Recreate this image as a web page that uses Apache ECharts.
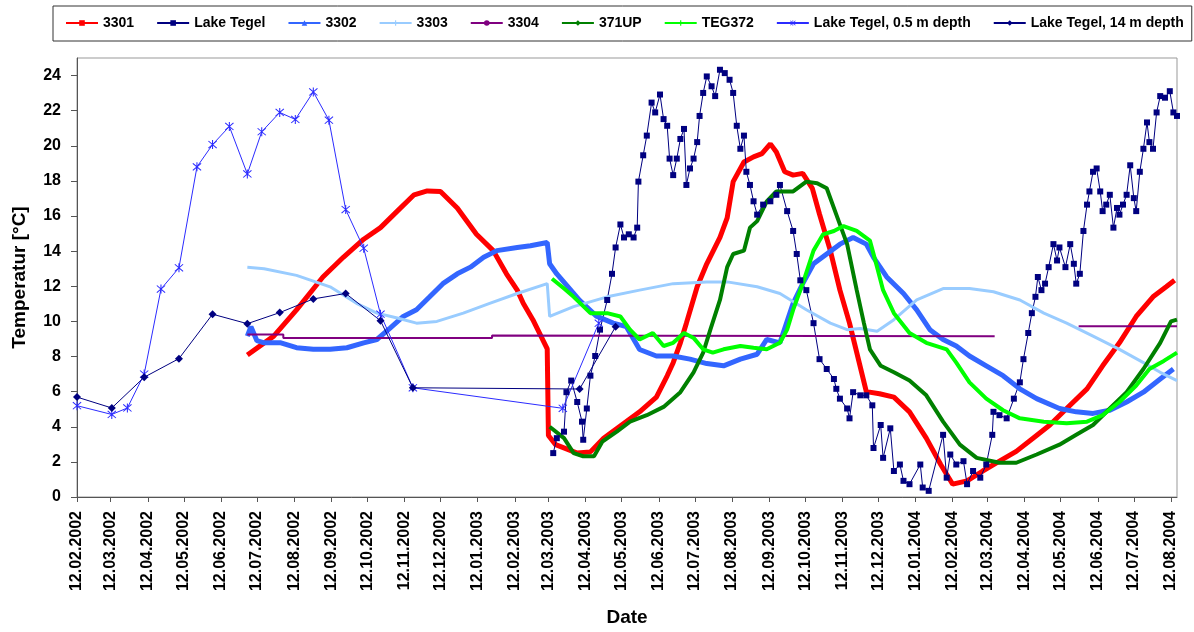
<!DOCTYPE html>
<html>
<head>
<meta charset="utf-8">
<script src="https://cdn.jsdelivr.net/npm/echarts@6/dist/echarts.min.js"></script>
<style>
html,body{margin:0;padding:0;background:#fff;}
#chart{width:1194px;height:632px;}
</style>
</head>
<body>
<div id="chart"></div>
<script>
// ---------- data ----------
// x values: days since 12.02.2002 ; y values: temperature in °C
const startDate = [2002, 2, 12];
const xMaxDay = 917; // 17.08.2004
const tickLabels = ['12.02.2002','12.03.2002','12.04.2002','12.05.2002','12.06.2002','12.07.2002','12.08.2002','12.09.2002','12.10.2002','12.11.2002','12.12.2002','12.01.2003','12.02.2003','12.03.2003','12.04.2003','12.05.2003','12.06.2003','12.07.2003','12.08.2003','12.09.2003','12.10.2003','12.11.2003','12.12.2003','12.01.2004','12.02.2004','12.03.2004','12.04.2004','12.05.2004','12.06.2004','12.07.2004','12.08.2004'];
const yTicks = [0,2,4,6,8,10,12,14,16,18,20,22,24];
const seriesNames = ['3301','Lake Tegel','3302','3303','3304','371UP','TEG372','Lake Tegel, 0.5 m depth','Lake Tegel, 14 m depth'];

const s3301 = [[142,8.09],[164,9.16],[183,10.66],[205,12.53],[222,13.65],[239,14.68],[253,15.34],[267,16.28],[281,17.21],[292,17.43],[303,17.4],[317,16.46],[333,14.96],[347,14.03],[358,12.71],[367,11.78],[372,11.03],[380,10.1],[392,8.43],[393,3.5],[399,2.98],[417,2.5],[428,2.57],[439,3.35],[456,4.2],[469,4.85],[483,5.69],[492,6.9],[497,7.65],[503,8.78],[508,9.9],[517,11.97],[525,13.28],[536,14.78],[542,15.9],[547,17.96],[556,19.08],[564,19.37],[571,19.55],[578,20.11],[583,19.65],[590,18.52],[597,18.33],[605,18.43],[613,17.58],[619,16.1],[628,14.03],[636,11.78],[644,9.9],[653,7.4],[658,6.0],[669,5.88],[681,5.69],[694,4.85],[708,3.35],[720,1.85],[730,0.73],[742,0.92],[755,1.48],[769,2.04],[783,2.6],[797,3.35],[811,4.1],[825,5.04],[842,6.16],[855,7.47],[869,8.78],[883,10.28],[897,11.4],[908,11.97],[915,12.34]];

const sLakeTegel = [[397,2.5],[400,3.35],[406,3.72],[408,5.97],[412,6.63],[417,5.41],[421,4.29],[422,3.26],[425,5.04],[428,6.91],[432,8.03],[436,9.53],[442,11.22],[446,12.71],[449,14.21],[453,15.52],[456,14.78],[460,14.96],[464,14.78],[467,15.34],[468,17.96],[472,19.46],[475,20.58],[479,22.46],[482,21.9],[486,22.92],[489,21.52],[492,21.14],[494,19.27],[497,18.33],[500,19.27],[503,20.39],[506,20.96],[508,17.77],[511,18.71],[514,19.27],[517,20.21],[519,21.7],[522,23.01],[525,23.95],[529,23.39],[532,22.83],[536,24.33],[540,24.14],[544,23.76],[547,23.01],[550,21.14],[553,19.83],[556,20.58],[558,18.52],[561,17.77],[564,16.84],[567,16.08],[572,16.65],[578,16.84],[583,17.21],[586,17.77],[592,16.28],[597,15.15],[600,13.84],[603,12.34],[608,11.78],[614,9.9],[619,7.85],[625,7.29],[631,6.72],[633,6.16],[636,5.6],[642,5.04],[644,4.48],[647,5.97],[653,5.79],[658,5.79],[663,5.22],[664,2.79],[670,4.1],[672,2.23],[678,3.91],[681,1.48],[686,1.85],[689,0.92],[694,0.73],[703,1.85],[705,0.54],[710,0.35],[722,3.54],[725,1.1],[728,2.42],[733,1.85],[739,2.04],[742,0.73],[747,1.48],[753,1.1],[758,1.85],[763,3.54],[764,4.85],[769,4.66],[775,4.48],[781,5.6],[786,6.53],[789,7.85],[793,9.34],[796,10.47],[799,11.4],[801,12.53],[804,11.78],[807,12.15],[810,13.09],[814,14.4],[817,13.47],[819,14.21],[824,13.09],[828,14.4],[831,13.28],[833,12.15],[836,12.71],[839,15.15],[842,16.65],[844,17.4],[847,18.52],[850,18.71],[853,17.4],[855,16.28],[858,16.65],[861,17.21],[864,15.34],[867,16.46],[869,16.08],[872,16.65],[875,17.21],[878,18.89],[881,17.02],[883,16.28],[886,18.52],[889,19.83],[892,21.33],[894,20.21],[897,19.83],[900,21.9],[903,22.83],[907,22.74],[911,23.11],[914,21.9],[917,21.7]];

const s3302 = [[142,9.16],[145,9.7],[150,8.9],[156,8.78],[170,8.78],[183,8.5],[197,8.41],[211,8.41],[225,8.5],[239,8.78],[250,8.97],[261,9.62],[272,10.28],[283,10.66],[294,11.4],[305,12.15],[317,12.71],[328,13.09],[339,13.65],[350,14.03],[367,14.21],[378,14.31],[392,14.49],[394,13.28],[400,12.7],[419,11.2],[433,10.3],[447,9.9],[458,9.7],[469,8.4],[483,8.03],[497,8.03],[511,7.85],[525,7.6],[539,7.47],[553,7.85],[567,8.13],[575,8.97],[586,8.78],[597,11.03],[605,12.15],[614,13.28],[625,13.84],[636,14.4],[647,14.78],[658,14.4],[664,13.65],[675,12.53],[689,11.59],[700,10.66],[711,9.53],[722,8.97],[733,8.6],[744,8.03],[758,7.47],[772,6.91],[786,6.16],[800,5.6],[819,5.04],[833,4.85],[847,4.76],[861,4.94],[875,5.41],[889,5.97],[903,6.72],[914,7.29]];

const s3303 = [[142,13.09],[156,13.0],[183,12.62],[211,11.97],[233,11.03],[250,10.47],[267,10.19],[283,9.9],[300,10.0],[322,10.47],[344,11.03],[367,11.59],[392,12.15],[394,10.28],[414,10.84],[442,11.4],[469,11.78],[497,12.15],[525,12.25],[542,12.25],[567,11.97],[586,11.59],[608,10.66],[628,9.9],[642,9.53],[653,9.6],[667,9.44],[681,10.1],[700,11.22],[722,11.87],[744,11.87],[764,11.69],[786,11.22],[806,10.47],[825,9.9],[847,9.16],[869,8.41],[889,7.65],[903,7.1],[917,6.63]];

const s3304 = [[142,9.25],[172,9.25],[172,9.06],[346,9.06],[346,9.2],[765,9.15],[765,null],[835,9.72],[917,9.72]];

const s371UP = [[394,4.0],[406,3.35],[414,2.5],[422,2.32],[431,2.32],[438,3.16],[450,3.72],[461,4.29],[475,4.66],[489,5.13],[503,5.97],[514,7.1],[522,8.22],[528,9.53],[536,11.22],[542,13.09],[547,13.84],[556,14.03],[561,15.34],[567,15.71],[575,16.84],[583,17.4],[597,17.4],[608,17.96],[617,17.87],[625,17.58],[633,16.08],[642,14.4],[650,11.78],[656,9.9],[661,8.41],[670,7.47],[681,7.1],[694,6.63],[708,5.79],[722,4.29],[736,2.98],[750,2.23],[769,1.95],[783,1.95],[800,2.42],[819,2.98],[833,3.54],[847,4.1],[861,5.04],[875,5.97],[889,7.29],[903,8.78],[912,10.0],[917,10.1]];

const sTEG372 = [[396,12.43],[406,11.87],[414,11.4],[428,10.47],[442,10.47],[453,10.28],[461,9.53],[469,8.97],[480,9.34],[489,8.6],[497,8.78],[506,9.34],[514,9.06],[522,8.41],[530,8.22],[539,8.41],[553,8.6],[564,8.5],[575,8.41],[586,8.78],[592,9.53],[597,10.66],[605,12.15],[614,14.03],[622,14.96],[631,15.15],[639,15.43],[650,15.15],[661,14.6],[667,13.09],[672,11.78],[681,10.47],[694,9.34],[708,8.78],[725,8.41],[733,7.65],[744,6.53],[758,5.6],[772,4.94],[786,4.48],[806,4.29],[825,4.2],[842,4.29],[855,4.66],[869,5.41],[883,6.35],[894,7.29],[906,7.75],[917,8.22]];

const sTegel05m = [[0,5.2],[29,4.7],[42,5.07],[56,7.0],[70,11.84],[85,13.05],[100,18.8],[113,20.07],[127,21.1],[142,18.4],[154,20.8],[169,21.9],[182,21.5],[197,23.07],[210,21.46],[224,16.37],[239,14.17],[253,10.41],[280,6.22],[405,5.05],[435,9.9]];

const sTegel14m = [[0,5.69],[29,5.07],[56,6.82],[85,7.88],[113,10.41],[142,9.87],[169,10.5],[197,11.28],[224,11.59],[253,10.04],[280,6.22],[419,6.15],[449,9.7]];

// ---------- helpers ----------
const DAY = 86400000;
const t0 = Date.UTC(startDate[0], startDate[1] - 1, startDate[2]);
const tickDays = tickLabels.map(s => {
  const p = s.split('.');
  return Math.round((Date.UTC(+p[2], +p[1] - 1, +p[0]) - t0) / DAY);
});
const labelByDay = {};
tickDays.forEach((d, i) => { labelByDay[d] = tickLabels[i]; });

const FONT = 'Liberation Sans, Arial, sans-serif';
const plusPath = 'path://M4,0L6,0L6,4L10,4L10,6L6,6L6,10L4,10L4,6L0,6L0,4L4,4Z';
const starPath = 'path://M4.5,0L5.5,0L5.5,10L4.5,10Z M0.7,1.4L1.4,0.7L9.3,8.6L8.6,9.3Z M8.6,0.7L9.3,1.4L1.4,9.3L0.7,8.6Z';

function mk(name, data, color, lw, symbol, symSize, showSym) {
  return {
    name: name, type: 'line', data: data,
    symbol: symbol, symbolSize: symSize, showSymbol: showSym,
    connectNulls: false, animation: false,
    lineStyle: { color: color, width: lw },
    itemStyle: { color: color, borderWidth: 0 },
    emphasis: { disabled: true }
  };
}

const chart = echarts.init(document.getElementById('chart'), null, { renderer: 'canvas' });
chart.setOption({
  animation: false,
  backgroundColor: '#fff',
  textStyle: { fontFamily: FONT },
  legend: {
    left: 53, top: 6, width: 1125,
    padding: [10, 8, 11, 12],
    itemWidth: 32, itemHeight: 7, itemGap: 22,
    borderColor: '#333', borderWidth: 1,
    textStyle: { fontFamily: FONT, fontWeight: 'bold', fontSize: 14, color: '#000' },
    data: seriesNames
  },
  grid: { left: 77, right: 17, top: 58, bottom: 129, show: true, borderColor: '#999', borderWidth: 1, containLabel: false },
  xAxis: {
    type: 'value', min: 0, max: xMaxDay,
    name: 'Date', nameLocation: 'middle', nameGap: 111,
    nameTextStyle: { fontFamily: FONT, fontWeight: 'bold', fontSize: 19, color: '#000' },
    axisLine: { show: true, lineStyle: { color: '#555', width: 1 } },
    axisTick: { show: true, customValues: tickDays, length: 5, lineStyle: { color: '#555' } },
    axisLabel: { customValues: tickDays, rotate: 90, margin: 14, fontFamily: FONT, fontWeight: 'bold', fontSize: 16, color: '#000',
      formatter: v => labelByDay[Math.round(v)] || '' },
    splitLine: { show: false }
  },
  yAxis: {
    type: 'value', min: 0, max: 25,
    name: 'Temperatur [°C]', nameLocation: 'middle', nameGap: 48, nameRotate: 90,
    nameTextStyle: { fontFamily: FONT, fontWeight: 'bold', fontSize: 19, color: '#000' },
    axisLine: { show: true, lineStyle: { color: '#555', width: 1 } },
    axisTick: { show: true, customValues: yTicks, length: 6, lineStyle: { color: '#555' } },
    axisLabel: { customValues: yTicks, margin: 16, fontFamily: FONT, fontWeight: 'bold', fontSize: 16, color: '#000' },
    splitLine: { show: false }
  },
  series: [
    mk('3301', s3301, '#FF0000', 5, 'rect', 6, false),
    mk('Lake Tegel', sLakeTegel, '#000080', 1, 'rect', 6, true),
    mk('3302', s3302, '#3366FF', 5, 'triangle', 7, false),
    mk('3303', s3303, '#99CCFF', 3, plusPath, 7, false),
    mk('3304', s3304, '#800080', 2, 'none', 4, false),
    mk('371UP', s371UP, '#008000', 4, 'diamond', 6, false),
    mk('TEG372', sTEG372, '#00FF00', 4, plusPath, 8, false),
    mk('Lake Tegel, 0.5 m depth', sTegel05m, '#2B2BFF', 1, starPath, 9, true),
    mk('Lake Tegel, 14 m depth', sTegel14m, '#000080', 1, 'diamond', 8, true)
  ]
});
</script>
</body>
</html>
